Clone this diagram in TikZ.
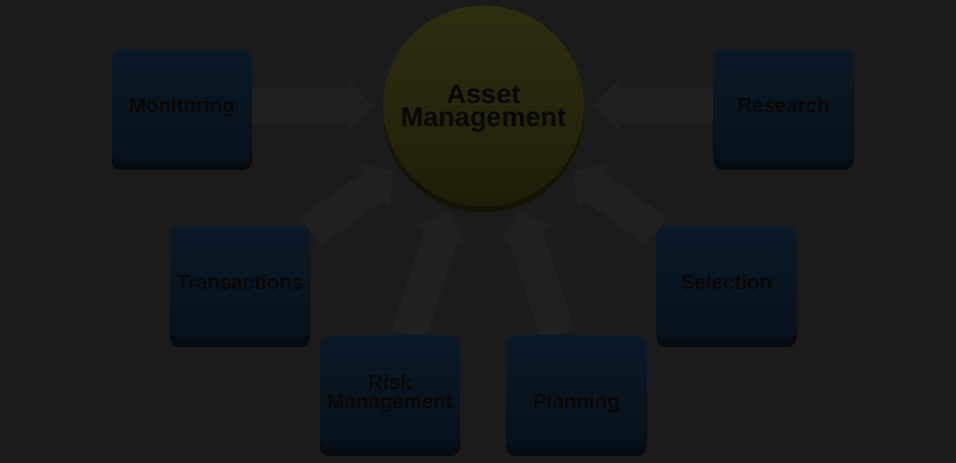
\documentclass[tikz,border=0pt]{standalone}
\usepackage{fontspec}
\setmainfont{Liberation Sans}
\usetikzlibrary{shadows,arrows.meta}
\definecolor{bgcol}{HTML}{1B1B1B}
\definecolor{boxtop}{HTML}{0A1A26}
\definecolor{boxbot}{HTML}{061019}
\definecolor{boxbase}{HTML}{040B11}
\definecolor{hubtop}{HTML}{302E0F}
\definecolor{hubbot}{HTML}{1F1D08}
\definecolor{hubbase}{HTML}{141304}
\definecolor{arrcol}{HTML}{1E2022}
\definecolor{txtcol}{HTML}{080808}
\pgfdeclarelayer{ground}
\pgfdeclarelayer{links}
\pgfsetlayers{ground,links,main}
\begin{document}
\begin{tikzpicture}[x=1pt,y=-1pt,
    stepbox/.style={rounded corners=9pt, minimum width=140pt, minimum height=113pt, inner sep=0pt, text depth=0pt,
        top color=boxtop, bottom color=boxbot, general shadow={shadow yshift=-8pt, fill=boxbase},
        text=txtcol, align=center, font=\fontsize{20.5}{19}\selectfont\bfseries},
    hub/.style={circle, minimum size=201pt, inner sep=0pt, text depth=0pt,
        top color=hubtop, bottom color=hubbot, general shadow={shadow yshift=-6pt, fill=hubbase},
        text=txtcol, align=center, font=\fontsize{27}{23}\selectfont\bfseries},
    bigarrow/.style={draw=arrcol, line width=35pt, -{Triangle[width=53pt,length=25pt,line width=0pt]}, shorten >=10pt}]
    \begin{pgfonlayer}{ground}
        \fill[bgcol] (0,0) rectangle (956,463);
    \end{pgfonlayer}
    \useasboundingbox (0,0) rectangle (956,463);

    \draw node[hub] (am) at (483.5, 106) {Asset\\Management};

    \draw node[stepbox] (mon) at (182, 105.5) {Monitoring};
    \draw node[stepbox] (res) at (783.5, 105.5) {Research};
    \draw node[stepbox] (tra) at (240, 282.5) {Transactions};
    \draw node[stepbox] (sel) at (726.5, 282.5) {Selection};
    \draw node[stepbox] (risk) at (390, 391.5) {Risk\\Management};
    \draw node[stepbox] (pla) at (576.5, 391.5) {\vphantom{R}\\Planning};

    %arrows sit behind the boxes
    \begin{pgfonlayer}{links}
        \draw[bigarrow] (mon) -- (am);
        \draw[bigarrow] (res) -- (am);
        \draw[bigarrow] (tra) -- (am);
        \draw[bigarrow] (sel) -- (am);
        \draw[bigarrow] (risk) -- (am);
        \draw[bigarrow] (pla) -- (am);
    \end{pgfonlayer}
\end{tikzpicture}
\end{document}
